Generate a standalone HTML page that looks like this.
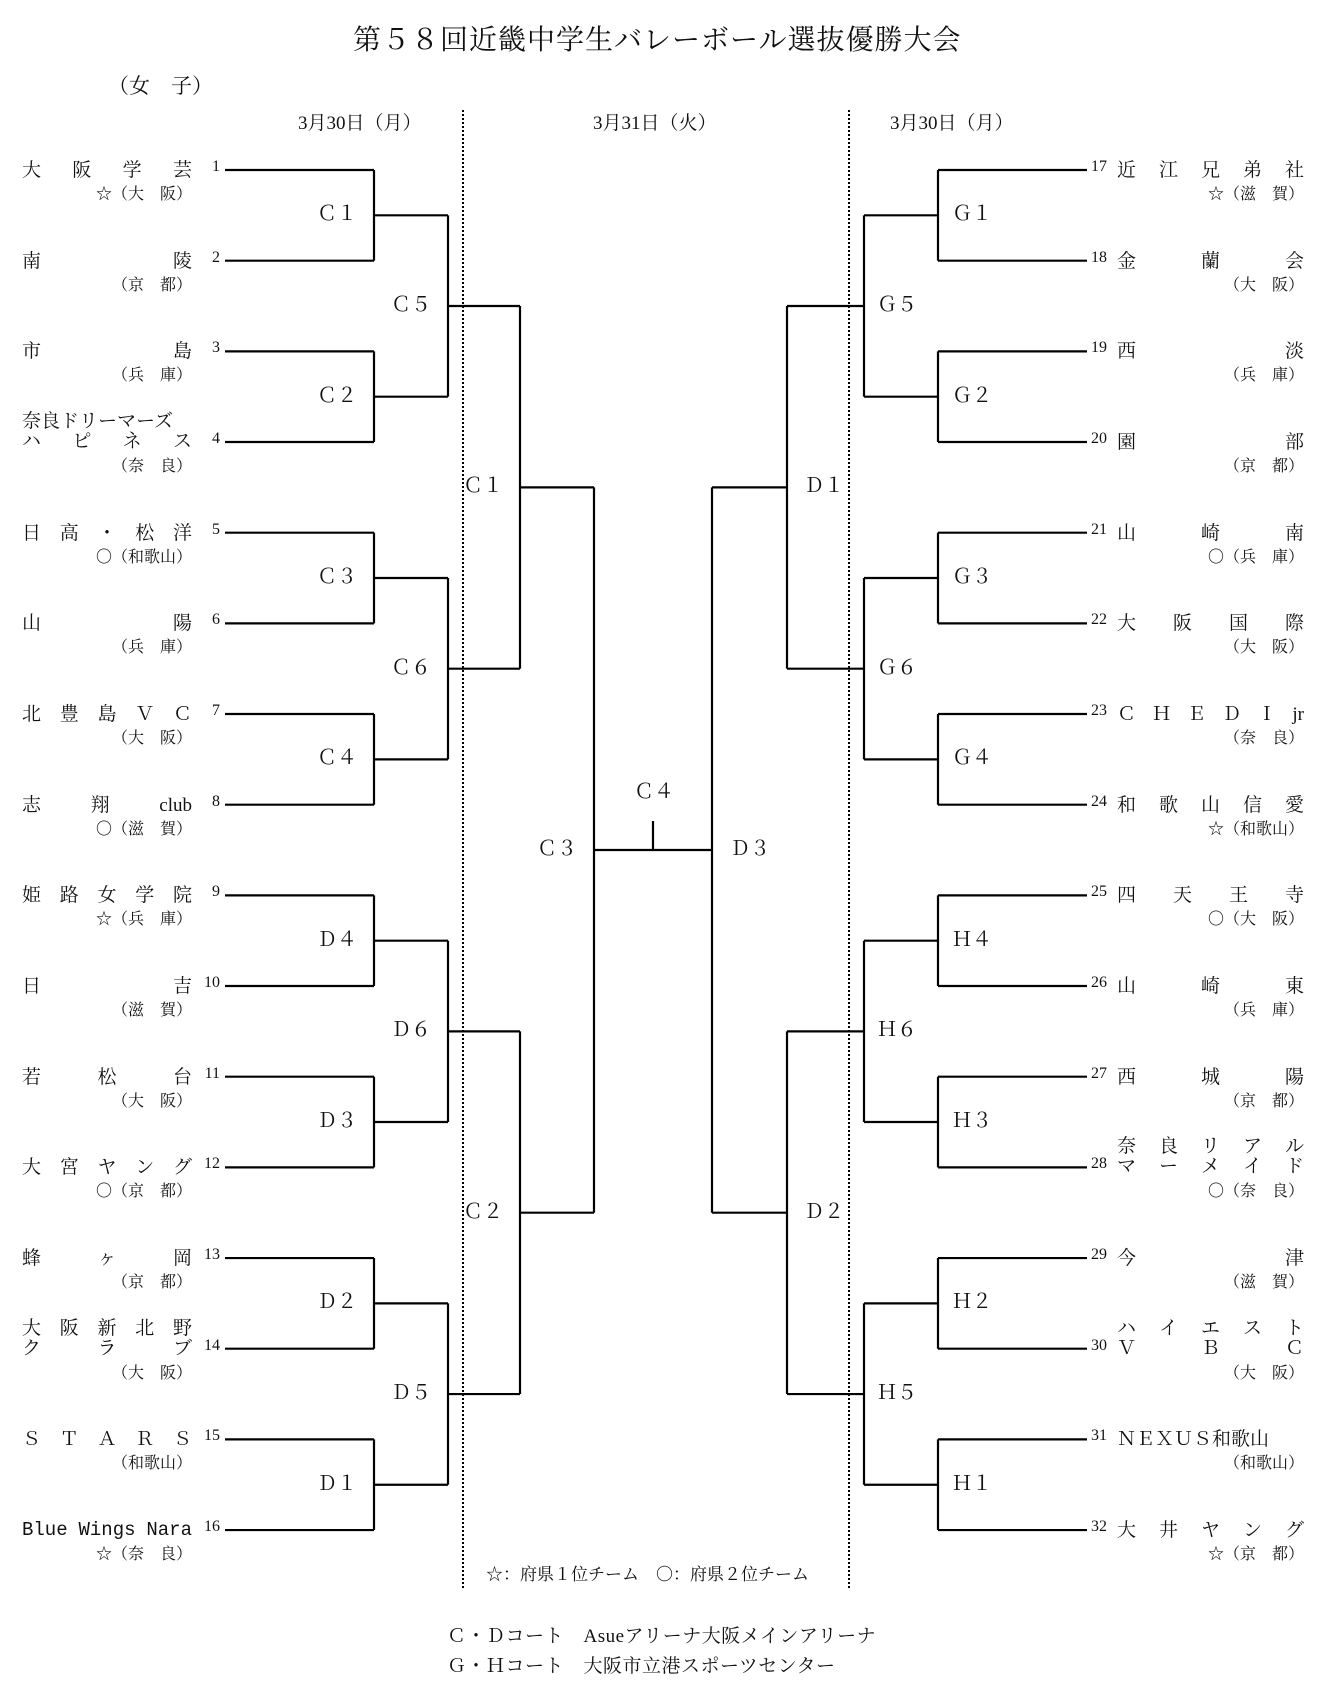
<!DOCTYPE html>
<html><head><meta charset="utf-8">
<style>
body{margin:0;background:#fff;}
#c{position:relative;width:1329px;height:1689px;overflow:hidden;font-family:"Liberation Serif","Noto Serif CJK SC",serif;color:#111;}
.t{position:absolute;white-space:nowrap;line-height:1;}
.sp{position:absolute;display:flex;justify-content:space-between;line-height:1;font-size:19px;white-space:nowrap;}
svg{position:absolute;left:0;top:0;}
</style></head><body>
<div id="c">
<svg id="s" width="1329" height="1689"></svg>
<div class="t" style="left:353px;top:27px;font-size:28px;letter-spacing:1px">第５８回近畿中学生バレーボール選抜優勝大会</div>
<div class="t" style="left:108px;top:76px;font-size:21px">（女　子）</div>
<div class="t" style="left:298px;top:114px;font-size:19px">3月30日（月）</div>
<div class="t" style="left:593px;top:114px;font-size:19px">3月31日（火）</div>
<div class="t" style="left:890px;top:114px;font-size:19px">3月30日（月）</div>
<div class="t" style="left:486px;top:1566px;font-size:17px">☆：府県１位チーム　〇：府県２位チーム</div>
<div class="t" style="left:447px;top:1627px;font-size:19px;letter-spacing:0.5px">Ｃ・Ｄコート　Asueアリーナ大阪メインアリーナ</div>
<div class="t" style="left:447px;top:1657px;font-size:19px;letter-spacing:0.5px">Ｇ・Ｈコート　大阪市立港スポーツセンター</div>
</div>
<script>
const c=document.getElementById('c'),s=document.getElementById('s');
let svg='';
function L(x1,y1,x2,y2){svg+=`<line x1="${x1}" y1="${y1}" x2="${x2}" y2="${y2}" stroke="#000" stroke-width="2.2"/>`;}
function T(x,y,txt,fs,align,ff){const d=document.createElement('div');d.className='t';d.style.fontSize=fs+'px';d.textContent=txt;d.style.top=(y-fs/2-1)+'px';if(ff)d.style.fontFamily=ff;if(align=='r'){d.style.right=(1329-x)+'px';}else d.style.left=x+'px';c.appendChild(d);}
function SP(x1,x2,y,parts,mono){const d=document.createElement('div');d.className='sp';d.style.left=x1+'px';d.style.width=(x2-x1)+'px';d.style.top=(y-10)+'px';if(mono)d.style.fontFamily='"Liberation Mono",monospace';if(parts.length==1)d.style.justifyContent='flex-start';parts.forEach(p=>{const e=document.createElement('span');e.textContent=p;d.appendChild(e);});c.appendChild(d);}
const Y=i=>170+(i-1)*90.67;
const left=[
[['大','阪','学','芸'],'☆（大　阪）'],[['南','陵'],'（京　都）'],[['市','島'],'（兵　庫）'],
[['奈良ドリーマーズ'],['ハ','ピ','ネ','ス'],'（奈　良）'],
[['日','高','・','松','洋'],'〇（和歌山）'],[['山','陽'],'（兵　庫）'],[['北','豊','島','Ｖ','Ｃ'],'（大　阪）'],
[['志','翔','club'],'〇（滋　賀）'],[['姫','路','女','学','院'],'☆（兵　庫）'],[['日','吉'],'（滋　賀）'],
[['若','松','台'],'（大　阪）'],[['大','宮','ヤ','ン','グ'],'〇（京　都）'],[['蜂','ヶ','岡'],'（京　都）'],
[['大','阪','新','北','野'],['ク','ラ','ブ'],'（大　阪）'],[['Ｓ','Ｔ','Ａ','Ｒ','Ｓ'],'（和歌山）'],
[['Blue','Wings','Nara'],'☆（奈　良）']];
const right=[
[['近','江','兄','弟','社'],'☆（滋　賀）'],[['金','蘭','会'],'（大　阪）'],[['西','淡'],'（兵　庫）'],[['園','部'],'（京　都）'],
[['山','崎','南'],'〇（兵　庫）'],[['大','阪','国','際'],'（大　阪）'],[['Ｃ','Ｈ','Ｅ','Ｄ','Ｉ','jr'],'（奈　良）'],
[['和','歌','山','信','愛'],'☆（和歌山）'],[['四','天','王','寺'],'〇（大　阪）'],[['山','崎','東'],'（兵　庫）'],
[['西','城','陽'],'（京　都）'],[['奈','良','リ','ア','ル'],['マ','ー','メ','イ','ド'],'〇（奈　良）'],
[['今','津'],'（滋　賀）'],[['ハ','イ','エ','ス','ト'],['Ｖ','Ｂ','Ｃ'],'（大　阪）'],
[['ＮＥＸＵＳ和歌山'],'（和歌山）'],[['大','井','ヤ','ン','グ'],'☆（京　都）']];
function team(arr,i,x1,x2,prx,mono){const y=Y(i);
 if(arr.length==3){SP(x1,x2,y-20,arr[0]);SP(x1,x2,y,arr[1]);T(prx,y+26,arr[2],16,'r');}
 else{SP(x1,x2,y+1,arr[0],mono);T(prx,y+26,arr[1],16,'r');}}
left.forEach((a,k)=>{const i=k+1;team(a,i,22,192,192,i==16);T(220,Y(i)-2,String(i),16,'r');L(225,Y(i),374,Y(i));});
right.forEach((a,k)=>{const i=k+17;team(a,i-16,1117,1304,1304);T(1091,Y(i-16)-2,String(i),16);L(938,Y(i-16),1087,Y(i-16));});
function mids(a){const r=[];for(let k=0;k<a.length;k+=2)r.push((a[k]+a[k+1])/2);return r;}
let ys=[];for(let i=1;i<=16;i++)ys.push(Y(i));
const Lx=[374,448,520,594],Rx=[938,864,787,712];
const Llab=[['Ｃ１','Ｃ２','Ｃ３','Ｃ４','Ｄ４','Ｄ３','Ｄ２','Ｄ１'],['Ｃ５','Ｃ６','Ｄ６','Ｄ５'],['Ｃ１','Ｃ２'],['Ｃ３']];
const Rlab=[['Ｇ１','Ｇ２','Ｇ３','Ｇ４','Ｈ４','Ｈ３','Ｈ２','Ｈ１'],['Ｇ５','Ｇ６','Ｈ６','Ｈ５'],['Ｄ１','Ｄ２'],['Ｄ３']];
let cur=ys;
for(let r=0;r<4;r++){const m=mids(cur);
 for(let k=0;k<m.length;k++){
  L(Lx[r],cur[2*k],Lx[r],cur[2*k+1]);L(Rx[r],cur[2*k],Rx[r],cur[2*k+1]);
  if(r>0){L(Lx[r-1],cur[2*k],Lx[r],cur[2*k]);L(Lx[r-1],cur[2*k+1],Lx[r],cur[2*k+1]);
          L(Rx[r],cur[2*k],Rx[r-1],cur[2*k]);L(Rx[r],cur[2*k+1],Rx[r-1],cur[2*k+1]);}
  const ly=m[k];
  if(r<2){T(Lx[r]-17,ly,Llab[r][k],20,'r');}else{T(r==2?463:537,ly,Llab[r][k],20);}
  const rxs=[952,877,804,730];T(rxs[r],ly,Rlab[r][k],20);
 }
 cur=m;}
const fy=cur[0];L(594,fy,712,fy);L(653,fy,653,fy-29);
T(634,fy-57,'Ｃ４',20);
svg+='<line x1="463" y1="110" x2="463" y2="1589" stroke="#000" stroke-width="2" stroke-dasharray="2,2"/>';
svg+='<line x1="849" y1="110" x2="849" y2="1589" stroke="#000" stroke-width="2" stroke-dasharray="2,2"/>';
s.innerHTML=svg;
</script>
</body></html>
